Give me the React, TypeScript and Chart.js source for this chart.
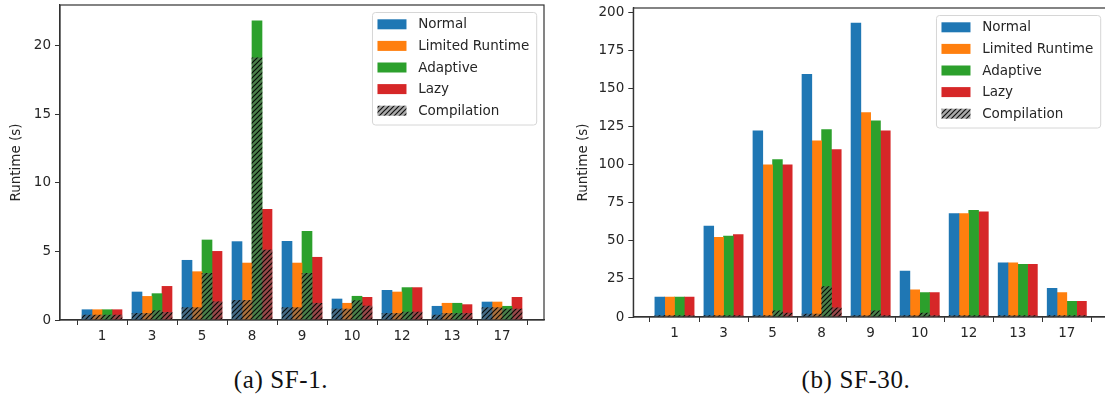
import React, { useEffect, useRef } from "react";
import { Chart, registerables } from "chart.js";

Chart.register(...registerables);

// Query numbers on the x axis
const categories = ["1", "3", "5", "8", "9", "10", "12", "13", "17"];
const seriesNames = ["Normal", "Limited Runtime", "Adaptive", "Lazy"];
const seriesColors = ["#1f77b4", "#ff7f0e", "#2ca02c", "#d62728"];
const compilationLabel = "Compilation";
const barOffsets = [-0.3, -0.1, 0.1, 0.3];

// SF-1: total runtime (s)
const sf1Normal = [0.75, 2.04, 4.35, 5.71, 5.73, 1.53, 2.16, 1.0, 1.31];
const sf1Limited = [0.75, 1.72, 3.52, 4.15, 4.15, 1.22, 2.04, 1.22, 1.31];
const sf1Adaptive = [0.75, 1.92, 5.83, 21.8, 6.46, 1.73, 2.36, 1.22, 1.0];
const sf1Lazy = [0.75, 2.45, 5.0, 8.07, 4.57, 1.65, 2.36, 1.12, 1.65];
// SF-1: compilation share (s)
const sf1CompNormal = [0.36, 0.48, 0.9, 1.43, 0.9, 0.8, 0.48, 0.36, 0.9];
const sf1CompLimited = [0.36, 0.48, 0.9, 1.43, 0.9, 0.8, 0.48, 0.48, 0.9];
const sf1CompAdaptive = [0.36, 0.68, 3.4, 19.1, 3.4, 1.41, 0.58, 0.48, 0.8];
const sf1CompLazy = [0.36, 0.56, 1.33, 5.1, 1.22, 1.02, 0.58, 0.48, 0.8];
const sf1YTicks = [0, 5, 10, 15, 20];
const sf1YMax = 22.95;

// SF-30: total runtime (s)
const sf30Normal = [13.1, 59.7, 122.3, 159.4, 193.1, 30.2, 68.0, 35.6, 18.8];
const sf30Limited = [13.1, 52.3, 100.0, 115.7, 134.3, 17.9, 68.0, 35.6, 16.0];
const sf30Adaptive = [13.1, 53.1, 103.5, 123.1, 128.8, 16.0, 70.0, 34.6, 10.3];
const sf30Lazy = [13.1, 54.2, 100.0, 110.0, 122.3, 16.0, 69.1, 34.6, 10.3];
// SF-30: compilation share (s)
const sf30CompNormal = [1.0, 1.0, 1.0, 2.0, 1.0, 1.0, 1.0, 1.0, 1.0];
const sf30CompLimited = [1.0, 1.0, 1.0, 2.0, 1.0, 1.0, 1.0, 1.0, 1.0];
const sf30CompAdaptive = [1.0, 1.0, 4.0, 20.0, 4.0, 2.5, 1.0, 1.0, 1.0];
const sf30CompLazy = [1.0, 1.0, 2.5, 6.0, 1.0, 1.0, 1.0, 1.0, 1.0];
const sf30YTicks = [0, 25, 50, 75, 100, 125, 150, 175, 200];
const sf30YMax = 203;

const X_MIN = -0.84;
const X_MAX = 8.84;
const FONT_FAMILY = "'DejaVu Sans', sans-serif";
const TEXT_COLOR = "#262626";
const AXIS_COLOR = "#333333";

function makeHatch(): CanvasPattern | string {
  const s = 5;
  const c = document.createElement("canvas");
  c.width = s;
  c.height = s;
  const g = c.getContext("2d");
  if (!g) return "rgba(80,80,80,0.6)";
  g.fillStyle = "rgba(100,100,100,0.55)";
  g.fillRect(0, 0, s, s);
  g.strokeStyle = "rgba(0,0,0,0.9)";
  g.lineWidth = 1.2;
  g.beginPath();
  g.moveTo(-1, s + 1);
  g.lineTo(s + 1, -1);
  g.moveTo(-1, 1);
  g.lineTo(1, -1);
  g.moveTo(s - 1, s + 1);
  g.lineTo(s + 1, s - 1);
  g.stroke();
  return g.createPattern(c, "repeat") || "rgba(80,80,80,0.6)";
}

// Keep the plot area exactly where the layout padding puts it
function clearScalePadding(sc: any) {
  sc.paddingTop = 0;
  sc.paddingBottom = 0;
  sc.paddingLeft = 0;
  sc.paddingRight = 0;
}

type PanelProps = {
  totals: number[][];
  comps: number[][];
  yTicks: number[];
  yMax: number;
  width: number;
  height: number;
  yAxisWidth: number;
  xAxisHeight: number;
  padTop: number;
  padRight: number;
  titlePad: number;
};

function Panel(props: PanelProps) {
  const ref = useRef<HTMLCanvasElement | null>(null);

  useEffect(() => {
    const canvas = ref.current;
    if (!canvas) return;
    const hatch = makeHatch();
    const font = { family: FONT_FAMILY, size: 13.5 };

    const datasets: any[] = [];
    seriesNames.forEach((name, s) => {
      datasets.push({
        label: name,
        data: props.totals[s].map((v, i) => ({ x: i + barOffsets[s], y: v })),
        backgroundColor: seriesColors[s],
        borderWidth: 0,
        grouped: false,
        categoryPercentage: 1,
        barPercentage: 1,
        order: 2,
      });
      datasets.push({
        label: compilationLabel,
        data: props.comps[s].map((v, i) => ({ x: i + barOffsets[s], y: v })),
        backgroundColor: hatch,
        borderWidth: 0,
        grouped: false,
        categoryPercentage: 1,
        barPercentage: 1,
        order: 1,
      });
    });

    // Axes box on all four sides
    const framePlugin = {
      id: "frame",
      afterDraw(chart: any) {
        const { ctx, chartArea } = chart;
        ctx.save();
        ctx.strokeStyle = AXIS_COLOR;
        ctx.lineWidth = 1.2;
        ctx.strokeRect(
          chartArea.left,
          chartArea.top,
          chartArea.right - chartArea.left,
          chartArea.bottom - chartArea.top
        );
        ctx.restore();
      },
    };

    // Boxed legend in the upper right corner of the plot area
    const legendPlugin = {
      id: "boxLegend",
      afterDraw(chart: any) {
        const { ctx, chartArea } = chart;
        const labels = [...seriesNames, compilationLabel];
        ctx.save();
        ctx.font = `13.5px ${FONT_FAMILY}`;
        const maxText = Math.max(...labels.map((l) => ctx.measureText(l).width));
        const padL = 5;
        const swW = 29;
        const swH = 10;
        const gap = 11.7;
        const padR = 7.5;
        const boxW = padL + swW + gap + maxText + padR;
        const boxH = 112.5;
        const right = chartArea.right - 7.3;
        const left = right - boxW;
        const top = chartArea.top + 7.5;
        const r = 3;
        ctx.beginPath();
        ctx.moveTo(left + r, top);
        ctx.lineTo(right - r, top);
        ctx.arcTo(right, top, right, top + r, r);
        ctx.lineTo(right, top + boxH - r);
        ctx.arcTo(right, top + boxH, right - r, top + boxH, r);
        ctx.lineTo(left + r, top + boxH);
        ctx.arcTo(left, top + boxH, left, top + boxH - r, r);
        ctx.lineTo(left, top + r);
        ctx.arcTo(left, top, left + r, top, r);
        ctx.closePath();
        ctx.fillStyle = "rgba(255,255,255,0.8)";
        ctx.fill();
        ctx.strokeStyle = "#d6d6d6";
        ctx.lineWidth = 1;
        ctx.stroke();

        ctx.textBaseline = "middle";
        ctx.textAlign = "left";
        labels.forEach((label, i) => {
          const cy = top + 11.8 + i * 21.6;
          const sx = left + padL;
          ctx.fillStyle = i < seriesColors.length ? seriesColors[i] : "#ffffff";
          ctx.fillRect(sx, cy - swH / 2, swW, swH);
          if (i >= seriesColors.length) {
            ctx.fillStyle = hatch as any;
            ctx.fillRect(sx, cy - swH / 2, swW, swH);
          }
          ctx.fillStyle = TEXT_COLOR;
          ctx.fillText(label, sx + swW + gap, cy + 0.5);
        });
        ctx.restore();
      },
    };

    const chart = new Chart(canvas, {
      type: "bar",
      data: { datasets },
      options: {
        animation: false,
        responsive: false,
        devicePixelRatio: 1,
        layout: {
          autoPadding: false,
          padding: { top: props.padTop, right: props.padRight, left: 0, bottom: 0 },
        },
        plugins: {
          legend: { display: false },
          tooltip: { enabled: false },
        },
        scales: {
          x: {
            type: "linear",
            min: X_MIN,
            max: X_MAX,
            offset: false,
            afterBuildTicks: (sc: any) => {
              sc.ticks = categories.map((_, i) => ({ value: i }));
            },
            afterFit: (sc: any) => {
              sc.height = props.xAxisHeight;
              clearScalePadding(sc);
            },
            ticks: {
              callback: (v: any) => categories[Math.round(Number(v))] ?? "",
              font,
              color: TEXT_COLOR,
              padding: 3,
              maxRotation: 0,
              autoSkip: false,
            },
            grid: {
              drawOnChartArea: false,
              drawTicks: true,
              tickLength: 5,
              color: AXIS_COLOR,
              lineWidth: 1,
            },
            border: { display: true, color: AXIS_COLOR, width: 1.2 },
          },
          y: {
            type: "linear",
            min: 0,
            max: props.yMax,
            afterBuildTicks: (sc: any) => {
              sc.ticks = props.yTicks.map((v) => ({ value: v }));
            },
            afterFit: (sc: any) => {
              sc.width = props.yAxisWidth;
              clearScalePadding(sc);
            },
            ticks: {
              font,
              color: TEXT_COLOR,
              padding: 4,
            },
            grid: {
              drawOnChartArea: false,
              drawTicks: true,
              tickLength: 5,
              color: AXIS_COLOR,
              lineWidth: 1,
            },
            border: { display: true, color: AXIS_COLOR, width: 1.2 },
            title: {
              display: true,
              text: "Runtime (s)",
              font,
              color: TEXT_COLOR,
              padding: { top: props.titlePad, bottom: 0 },
            },
          },
        },
      } as any,
      plugins: [framePlugin, legendPlugin],
    });

    return () => chart.destroy();
  }, []);

  return (
    <canvas
      ref={ref}
      width={props.width}
      height={props.height}
      style={{ width: props.width, height: props.height, display: "block" }}
    />
  );
}

const captionStyle: React.CSSProperties = {
  position: "absolute",
  top: 365,
  width: 240,
  textAlign: "center",
  fontFamily: "'Liberation Serif', 'Times New Roman', serif",
  fontSize: 25,
  letterSpacing: 0.6,
  color: "#111",
  lineHeight: "30px",
};

export default function App() {
  return (
    <div
      style={{
        position: "fixed",
        left: 0,
        top: 0,
        width: 1105,
        height: 401,
        overflow: "hidden",
        background: "#ffffff",
      }}
    >
      <div style={{ position: "absolute", left: 0, top: 0 }}>
        <Panel
          totals={[sf1Normal, sf1Limited, sf1Adaptive, sf1Lazy]}
          comps={[sf1CompNormal, sf1CompLimited, sf1CompAdaptive, sf1CompLazy]}
          yTicks={sf1YTicks}
          yMax={sf1YMax}
          width={552}
          height={345}
          yAxisWidth={60}
          xAxisHeight={25}
          padTop={5}
          padRight={8}
          titlePad={8.6}
        />
      </div>
      <div style={{ position: "absolute", left: 560, top: 0 }}>
        <Panel
          totals={[sf30Normal, sf30Limited, sf30Adaptive, sf30Lazy]}
          comps={[sf30CompNormal, sf30CompLimited, sf30CompAdaptive, sf30CompLazy]}
          yTicks={sf30YTicks}
          yMax={sf30YMax}
          width={560}
          height={345}
          yAxisWidth={73.3}
          xAxisHeight={28}
          padTop={8}
          padRight={12}
          titlePad={15}
        />
      </div>
      <div style={{ ...captionStyle, left: 161 }}>(a) SF-1.</div>
      <div style={{ ...captionStyle, left: 736 }}>(b) SF-30.</div>
    </div>
  );
}
